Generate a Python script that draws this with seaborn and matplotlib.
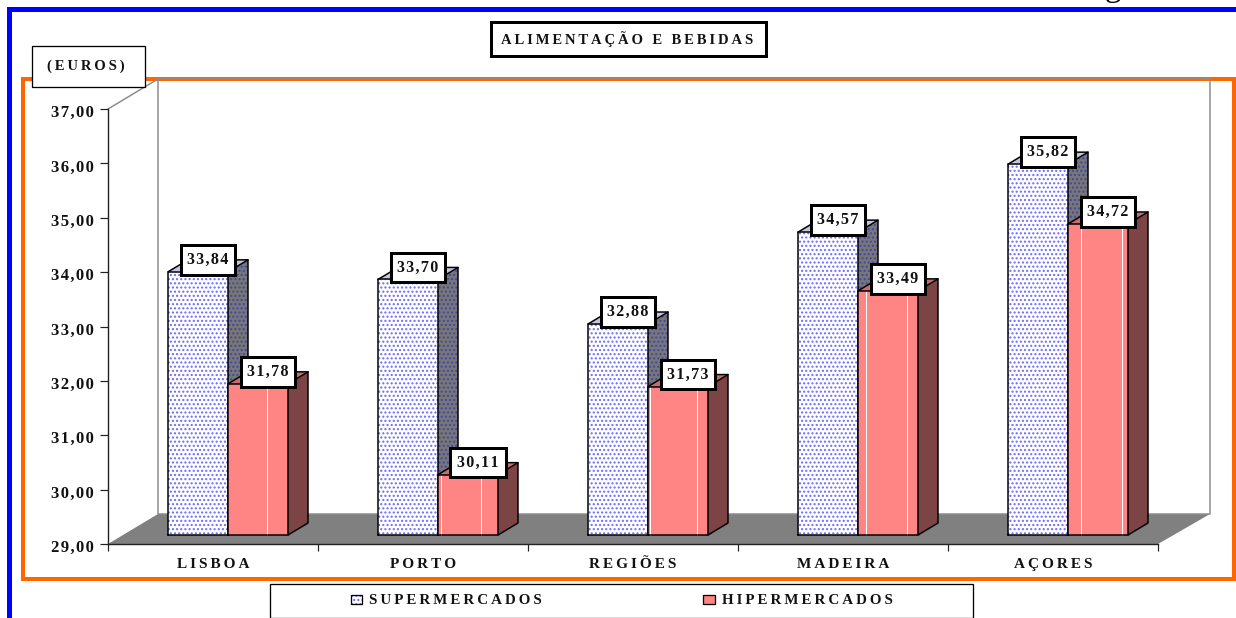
#!/usr/bin/env python3
"""Alimentacao e bebidas: pseudo-3D grouped bars, supermercados vs hipermercados."""

import matplotlib
matplotlib.use("Agg")
import matplotlib.pyplot as plt
import pandas as pd
import seaborn as sns
from matplotlib.patches import Rectangle
from matplotlib.transforms import ScaledTranslation

categories = ["LISBOA", "PORTO", "REGIÕES", "MADEIRA", "AÇORES"]
supermercados = [33.84, 33.70, 32.88, 34.57, 35.82]
hipermercados = [31.78, 30.11, 31.73, 33.49, 34.72]
series_names = ["SUPERMERCADOS", "HIPERMERCADOS"]
y_ticks = [29, 30, 31, 32, 33, 34, 35, 36, 37]

# pixel layout of the reference
W, H = 1236, 618
DEPTH_X, DEPTH_Y = 20, 12
UNIT_X, UNIT_Y = 210, 435 / 8
# white streaks inside the red bars, in reference pixels
streaks = [[266.7], [440.7, 481], [650, 696.7], [865.7, 906.7], [1080.7, 1121.7]]

FONT = "Liberation Serif"
HAIR = "\u200a"
THIN = "\u2009"
DOTS = "...."


def spaced(text, sep=HAIR):
    return sep.join(text)


def pt(px):
    return px * 0.72


def axes_px(left, top, right, bottom):
    return fig.add_axes([left / W, 1 - bottom / H, (right - left) / W, (bottom - top) / H])


def comma(v):
    return f"{v:.2f}".replace(".", ",")


sns.set_style("white")
plt.rcParams["font.family"] = [FONT, "DejaVu Sans"]
plt.rcParams["hatch.linewidth"] = 1.0

fig = plt.figure(figsize=(W / 100, H / 100), dpi=100)

# background: page frames, wall and floor in pixel coordinates
bg = axes_px(0, 0, W, H)
bg.set_xlim(0, W)
bg.set_ylim(H, 0)
bg.axis("off")
bg.plot([8.5, 8.5, W], [H, 9, 9], color="#0000ff", lw=pt(5), solid_joinstyle="miter")
bg.add_patch(Rectangle((23, 78.5), 1211, 500.5, fill=False, ec="#ff6600", lw=pt(4), joinstyle="miter"))
bg.plot([108, 158, 158, 1210, 1210], [109, 79, 514, 514, 79], color="#8c8c8c", lw=pt(1.5))
bg.plot([158, 1210], [79, 79], color="#8c8c8c", lw=pt(1.5))
bg.fill([108, 158, 1210, 1158], [544, 514, 514, 544], color="#808080", lw=0)
bg.text(1113, -4, "g", fontsize=24, ha="center", va="baseline", color="black", family=[FONT])

# front plane carrying the value and category axes
axis_ax = axes_px(108, 109, 1158, 544)
axis_ax.patch.set_alpha(0)
axis_ax.set_xlim(-0.5, 4.5)
axis_ax.set_ylim(29, 37)
axis_ax.set_yticks(y_ticks, [spaced(comma(v)) for v in y_ticks])
axis_ax.set_xticks(range(5), [spaced(c, THIN) for c in categories])
axis_ax.set_xticks([i - 0.5 for i in range(6)], minor=True)
axis_ax.tick_params(axis="y", left=True, length=pt(8), width=pt(1.2), pad=pt(6), color="#222222")
axis_ax.tick_params(axis="x", which="major", bottom=False, length=0, pad=pt(14))
axis_ax.tick_params(axis="x", which="minor", bottom=True, length=pt(7), width=pt(1.2), color="#222222")
for lab in axis_ax.get_yticklabels():
    lab.set_fontsize(12)
    lab.set_fontweight("bold")
    lab.set_color("#111111")
    lab.set_transform(lab.get_transform() + ScaledTranslation(0, -2 / 100, fig.dpi_scale_trans))
for lab in axis_ax.get_xticklabels():
    lab.set_fontsize(11)
    lab.set_fontweight("bold")
    lab.set_color("#111111")
sns.despine(ax=axis_ax, top=True, right=True)
for side in ("left", "bottom"):
    axis_ax.spines[side].set_color("#222222")
    axis_ax.spines[side].set_linewidth(pt(1.4))

# bars sit half a depth step behind the front plane
ax = axes_px(123, 100, 1173, 535)
ax.patch.set_alpha(0)
df = pd.DataFrame({
    "regiao": categories * 2,
    "preco": supermercados + hipermercados,
    "tipo": [series_names[0]] * 5 + [series_names[1]] * 5,
})
sns.barplot(data=df, x="regiao", y="preco", hue="tipo", order=categories, hue_order=series_names,
            palette=["white", "#ff8585"], saturation=1, width=120 / 210, gap=0, dodge=True,
            legend=False, errorbar=None, ax=ax)
ax.set_xlim(-0.5, 4.5)
ax.set_ylim(29, 37)
ax.axis("off")

dx = DEPTH_X / UNIT_X
dy = DEPTH_Y / UNIT_Y
styles = [
    {"hatch": "#6a6aff", "side": "#777777", "side_hatch": "#4444aa", "top": "#c4c4dc", "z": 2},
    {"hatch": None, "side": "#7c4444", "side_hatch": None, "top": "#c86c6c", "z": 3},
]
for container, st in zip(ax.containers, styles):
    for i, p in enumerate(container.patches):
        top = p.get_height()
        p.set_y(29)
        p.set_height(top - 29)
        p.set_clip_on(False)
        p.set_zorder(st["z"])
        p.set_linewidth(0)
        x0 = p.get_x()
        x1 = x0 + p.get_width()
        if st["hatch"]:
            p.set_edgecolor(st["hatch"])
            p.set_hatch(DOTS)
        ax.fill([x1, x1 + dx, x1 + dx, x1], [29, 29 + dy, top + dy, top], facecolor=st["side"],
                edgecolor=st["side_hatch"] or st["side"], hatch=DOTS if st["side_hatch"] else None,
                lw=0, zorder=st["z"], clip_on=False)
        ax.fill([x0, x0 + dx, x1 + dx, x1], [top, top + dy, top + dy, top], color=st["top"],
                lw=0, zorder=st["z"], clip_on=False)
        if not st["hatch"]:
            for sx in streaks[i]:
                ux = (sx - 123) / UNIT_X - 0.5
                ax.plot([ux, ux], [29, top], color="white", lw=pt(1), zorder=st["z"], clip_on=False)
        edge = {"color": "black", "lw": pt(1.5), "zorder": st["z"], "clip_on": False}
        ax.plot([x0, x0, x1, x1, x0], [29, top, top, 29, 29], **edge)
        ax.plot([x0, x0 + dx, x1 + dx, x1 + dx, x1], [top, top + dy, top + dy, 29 + dy, 29], **edge)
        ax.plot([x1, x1 + dx], [top, top + dy], **edge)
        ax.annotate(spaced(comma(top)), xy=((x0 + x1) / 2, top), xytext=(pt(10), pt(12)),
                    textcoords="offset points", ha="center", va="center", fontsize=11.5,
                    fontweight="bold", color="#111111", annotation_clip=False, zorder=10,
                    bbox=dict(boxstyle="square,pad=0.42", fc="white", ec="black", lw=pt(3)))

# foreground boxes: title, unit and legend
fg = axes_px(0, 0, W, H)
fg.patch.set_alpha(0)
fg.set_xlim(0, W)
fg.set_ylim(H, 0)
fg.axis("off")
fg.set_zorder(5)
fg.add_patch(Rectangle((490.5, 21.5), 275, 34, fc="white", ec="black", lw=pt(3), joinstyle="miter"))
fg.text(627, 39, spaced("ALIMENTAÇÃO E BEBIDAS", THIN), fontsize=10.5, fontweight="bold",
        ha="center", va="center", color="#111111")
fg.add_patch(Rectangle((31.5, 45.5), 113, 41, fc="white", ec="black", lw=pt(1.3), joinstyle="miter"))
fg.text(86, 66, spaced("(EUROS)", THIN), fontsize=10.5, fontweight="bold", ha="center", va="center",
        color="#111111")
fg.add_patch(Rectangle((269.5, 583.5), 703.5, 34, fc="white", ec="black", lw=pt(1.3), joinstyle="miter"))
fg.add_patch(Rectangle((351, 595), 11, 9, fc="white", ec="#6a6aff", hatch=DOTS, lw=0))
fg.add_patch(Rectangle((351, 595), 11, 9, fill=False, ec="black", lw=pt(1.3)))
fg.add_patch(Rectangle((703, 595), 12, 9, fc="#ff8585", ec="black", lw=pt(1.3)))
fg.text(369, 600, spaced(series_names[0], THIN), fontsize=10.8, fontweight="bold", ha="left",
        va="center", color="#111111")
fg.text(722, 600, spaced(series_names[1], THIN), fontsize=10.8, fontweight="bold", ha="left",
        va="center", color="#111111")

bg.set_zorder(0)
axis_ax.set_zorder(1)
ax.set_zorder(3)

fig.savefig("out.png", dpi=100)
